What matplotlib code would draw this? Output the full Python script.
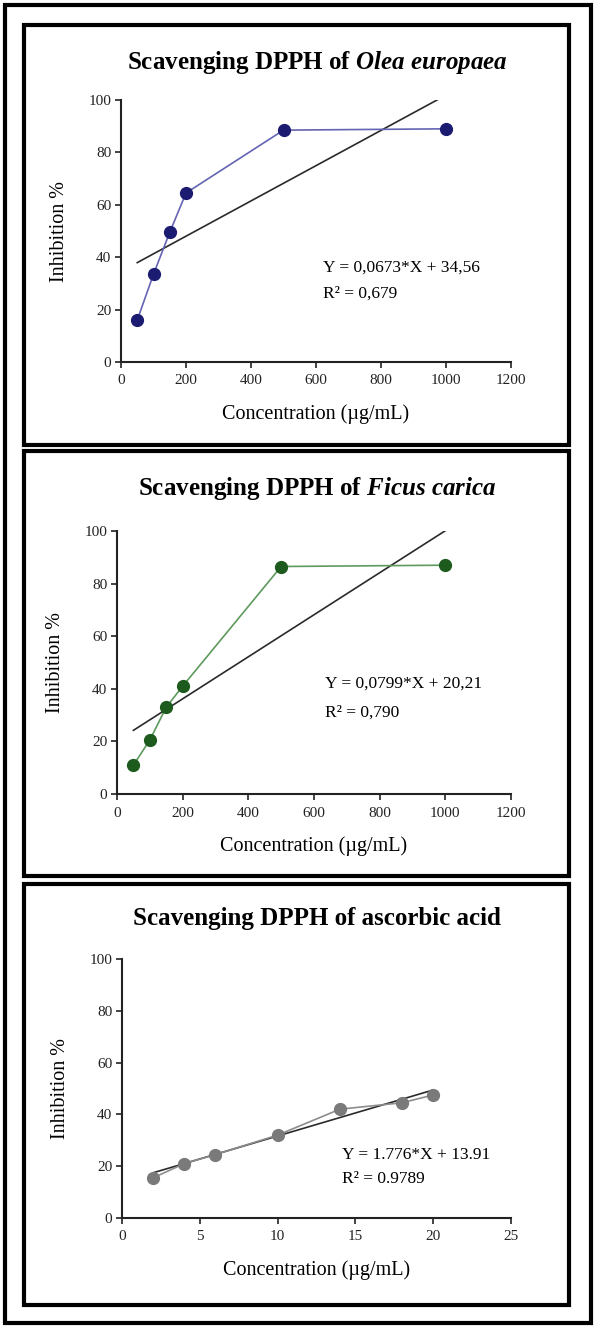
import matplotlib
matplotlib.use("Agg")
import matplotlib.pyplot as plt
from matplotlib.patches import Rectangle

plt.rcParams["font.family"] = ["Liberation Serif", "DejaVu Serif"]

# data
olea_x = [50, 100, 150, 200, 500, 1000]
olea_y = [16, 33.5, 49.5, 64.5, 88.5, 89]
ficus_x = [50, 100, 150, 200, 500, 1000]
ficus_y = [11, 20.5, 33, 41, 86.5, 87]
asc_x = [2, 4, 6, 10, 14, 18, 20]
asc_y = [15.5, 21, 24.5, 32, 42, 44.5, 47.5]

# linear fits as printed on the chart (slope, intercept, x-range)
olea_fit = (0.0673, 34.56, [50, 975])
ficus_fit = (0.0799, 20.21, [50, 1000])
asc_fit = (1.776, 13.91, [2, 20])

olea_eq = ["Y = 0,0673*X + 34,56", "R² = 0,679"]
ficus_eq = ["Y = 0,0799*X + 20,21", "R² = 0,790"]
asc_eq = ["Y = 1.776*X + 13.91", "R² = 0.9789"]

W, H = 600, 1327
fig = plt.figure(figsize=(W / 100, H / 100), dpi=100)


def fx(px):
    return px / W


def fy(py):
    return 1 - py / H


def frame(x0, y0, x1, y1):
    fig.patches.append(Rectangle((fx(x0), fy(y1)), fx(x1) - fx(x0), fy(y0) - fy(y1),
                                 transform=fig.transFigure, fill=False,
                                 edgecolor="black", lw=3.0, zorder=10))


frame(5, 5, 591, 1323)
frame(23.5, 25.5, 569, 444.5)
frame(23.5, 450.5, 569, 876)
frame(23.5, 884, 569, 1305)

plt.rcParams["mathtext.fontset"] = "custom"
plt.rcParams["mathtext.it"] = "Liberation Serif:italic:bold"
plt.rcParams["mathtext.rm"] = "Liberation Serif:bold"

panels = [
    dict(box=(121, 100, 511, 362), title=r"Scavenging DPPH of $\mathit{Olea\ europaea}$",
         ty=62, x=olea_x, y=olea_y, mc="#1b1b72", lc="#6464b4", fit=olea_fit,
         eq=olea_eq, eqpos=(0.518, 0.36, 0.26), xmax=1200, xstep=200),
    dict(box=(117, 531, 511, 794), title=r"Scavenging DPPH of $\mathit{Ficus\ carica}$",
         ty=488, x=ficus_x, y=ficus_y, mc="#1d5a1d", lc="#5e9a5e", fit=ficus_fit,
         eq=ficus_eq, eqpos=(0.528, 0.42, 0.31), xmax=1200, xstep=200),
    dict(box=(122, 959, 511, 1218), title="Scavenging DPPH of ascorbic acid",
         ty=919, x=asc_x, y=asc_y, mc="#7a7a7a", lc="#8c8c8c", fit=asc_fit,
         eq=asc_eq, eqpos=(0.566, 0.245, 0.15), xmax=25, xstep=5),
]

for p in panels:
    l, t, r, b = p["box"]
    ax = fig.add_axes([fx(l), fy(b), fx(r) - fx(l), fy(t) - fy(b)])
    ax.plot(p["x"], p["y"], "-o", color=p["lc"], lw=1.2, ms=8.5,
            mfc=p["mc"], mec=p["mc"], zorder=3)
    k, q, xr = p["fit"]
    ax.plot(xr, [k * v + q for v in xr], color="#2a2a2a", lw=1.2, zorder=2)
    ax.set_xlim(0, p["xmax"])
    ax.set_ylim(0, 100)
    ax.set_xticks(range(0, p["xmax"] + 1, p["xstep"]))
    ax.set_yticks(range(0, 101, 20))
    for s in ("top", "right"):
        ax.spines[s].set_visible(False)
    for s in ("left", "bottom"):
        ax.spines[s].set_linewidth(1.5)
        ax.spines[s].set_color("#222222")
    ax.tick_params(direction="out", length=4, width=1.2, labelsize=11, pad=3,
                   colors="#222222")
    ax.tick_params(axis="x", pad=5)
    ax.set_xlabel("Concentration (µg/mL)", fontsize=14.5, labelpad=12)
    ax.set_ylabel("Inhibition %", fontsize=14.5, labelpad=14)
    ax.patch.set_alpha(0)
    ex, ey1, ey2 = p["eqpos"]
    ax.text(ex, ey1, p["eq"][0], transform=ax.transAxes, fontsize=12.5, va="center")
    ax.text(ex, ey2, p["eq"][1], transform=ax.transAxes, fontsize=12.5, va="center")
    fig.text(fx(317), fy(p["ty"]), p["title"], ha="center", va="center",
             fontsize=18, fontweight="bold")

fig.savefig("out.png", dpi=100)
